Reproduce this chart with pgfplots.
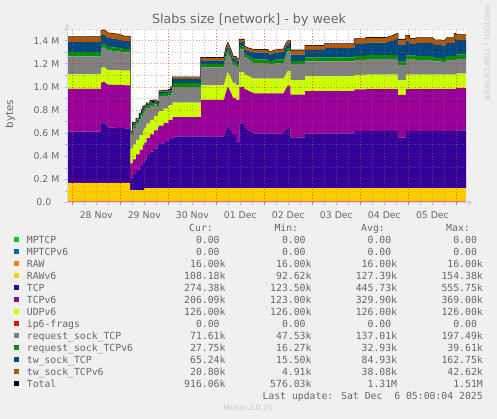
\documentclass[border=0pt]{standalone}
\usepackage{pgfplots}
\pgfplotsset{compat=1.18}
\usepackage{pgfplotstable}
\usepackage{fontspec}
\setmainfont{DejaVu Sans}
\newfontfamily\mono{DejaVu Sans Mono}
\usetikzlibrary{arrows.meta}

\definecolor{bgc}{HTML}{F0F0F0}
\definecolor{fontc}{HTML}{666666}
\definecolor{axisc}{HTML}{CFD6F8}
\definecolor{cMPTCP}{HTML}{00CC00}
\definecolor{cMPTCPsix}{HTML}{0066B3}
\definecolor{cRAW}{HTML}{FF8000}
\definecolor{cRAWsix}{HTML}{FFCC00}
\definecolor{cTCP}{HTML}{330099}
\definecolor{cTCPsix}{HTML}{990099}
\definecolor{cUDPsix}{HTML}{CCFF00}
\definecolor{cFrag}{HTML}{FF0000}
\definecolor{cRsock}{HTML}{808080}
\definecolor{cRsocksix}{HTML}{008F00}
\definecolor{cTw}{HTML}{00487D}
\definecolor{cTwsix}{HTML}{B35A00}

% time in days from 28 Nov 00:00, sizes in kB
% (a repeated t is a step)
\pgfplotstableread{
t raw rawv6 tcp tcpv6 udpv6 rsock rsock6 tw tw6
-0.110 16 154 443 370 126 154 37 90 42
0.600 16 154 443 370 126 154 37 90 42
0.600 16 154 500 365 126 170 32 80 42
0.660 16 154 520 355 126 175 30 75 42
0.740 16 154 480 370 126 170 30 78 42
0.950 16 154 475 372 126 165 30 75 42
1.100 16 154 472 372 126 158 28 70 40
1.205 16 154 472 372 126 158 28 70 40
1.205 16 90 110 123 126 115 18 10 5
1.260 16 90 110 123 126 115 18 10 5
1.260 16 90 140 128 126 145 22 15 8
1.330 16 90 140 128 126 145 22 15 8
1.330 16 90 175 135 126 140 22 16 8
1.400 16 90 175 135 126 140 22 16 8
1.400 16 90 210 140 126 140 23 17 8
1.440 16 90 210 140 126 140 23 17 8
1.440 16 90 210 140 126 160 25 23 10
1.470 16 90 210 140 126 160 25 23 10
1.470 16 90 245 145 126 150 25 23 10
1.500 16 90 245 145 126 150 25 23 10
1.500 16 108 250 145 126 142 25 19 9
1.550 16 108 250 145 126 142 25 19 9
1.550 16 108 285 148 126 130 24 15 8
1.620 16 108 285 148 126 130 24 15 8
1.620 16 108 315 150 126 120 24 14 7
1.670 16 108 315 150 126 120 24 14 7
1.670 16 108 315 150 126 105 22 12 6
1.700 16 108 315 150 126 105 22 12 6
1.700 16 108 345 155 126 98 20 11 6
1.760 16 108 345 155 126 98 20 11 6
1.760 16 108 345 155 126 85 19 10 6
1.790 16 108 345 155 126 85 19 10 6
1.790 16 108 370 158 126 45 16 10 6
1.810 16 108 370 158 126 45 16 10 6
1.810 16 108 380 160 126 125 25 17 8
1.900 16 108 380 160 126 125 25 17 8
1.900 16 108 400 162 126 110 25 15 8
2.000 16 108 400 162 126 110 25 15 8
2.000 16 108 425 165 126 90 25 13 7
2.056 16 108 425 165 126 90 25 13 7
2.056 16 108 425 165 126 105 28 18 9
2.092 16 108 425 165 126 105 28 18 9
2.092 16 108 447 167 126 133 35 38 15
2.681 16 108 447 167 126 133 35 38 15
2.681 16 108 447 316 126 155 30 32 22
3.160 16 108 447 316 126 155 30 32 22
3.200 16 108 490 340 126 165 30 35 25
3.240 16 108 539 340 126 165 29 30 27
3.300 16 108 500 330 126 160 28 30 25
3.350 16 108 460 320 126 155 25 30 22
3.410 16 108 460 320 126 155 25 30 22
3.410 16 108 403 361 126 160 25 28 20
3.480 16 108 403 361 126 160 25 28 20
3.480 16 108 555 322 126 197 30 33 23
3.580 16 108 555 322 126 197 30 33 23
3.580 16 108 530 330 126 151 30 35 26
3.660 16 108 500 345 126 150 28 38 25
3.780 16 108 475 346 126 134 34 60 23
4.070 16 108 475 346 126 134 34 60 23
4.120 16 108 475 346 126 120 25 60 23
4.200 16 108 475 346 126 130 32 58 24
4.330 16 108 475 346 126 134 34 62 24
4.400 16 108 475 346 126 134 34 62 24
4.450 16 108 500 360 126 150 30 60 24
4.490 16 108 519 369 126 170 30 35 24
4.540 16 108 519 369 126 170 30 35 24
4.540 16 108 440 369 126 140 25 55 38
4.850 16 108 440 369 126 140 25 55 38
4.850 16 108 475 365 126 130 35 65 36
5.250 16 108 475 365 126 130 35 65 36
5.250 16 108 475 365 126 130 35 80 37
5.875 16 108 475 365 126 130 35 80 37
5.875 16 108 495 360 126 128 35 105 42
6.120 16 108 495 360 126 128 35 105 42
6.120 16 108 495 361 126 135 37 105 42
6.530 16 108 495 361 126 135 37 105 42
6.650 16 108 495 361 126 135 37 120 42
6.760 16 108 495 361 126 135 37 140 42
6.780 16 108 495 361 126 135 37 140 42
6.780 16 108 437 369 126 133 29 150 42
6.950 16 108 437 369 126 133 29 150 42
6.950 16 108 495 361 126 130 35 130 42
7.020 16 108 495 361 126 130 35 130 42
7.020 16 108 495 361 126 130 35 105 42
7.160 16 108 495 361 126 130 35 105 42
7.160 16 108 495 361 126 125 35 115 42
7.500 16 108 495 361 126 125 35 115 42
7.550 16 108 495 361 126 115 30 112 42
7.680 16 108 495 361 126 115 30 112 42
7.720 16 108 495 361 126 105 30 115 42
7.760 16 108 495 361 126 105 30 115 42
7.800 16 108 495 361 126 125 35 115 42
7.960 16 108 495 361 126 125 35 115 42
7.960 16 108 495 361 126 125 35 150 45
7.990 16 108 495 361 126 125 35 150 45
7.990 16 108 500 365 126 128 37 125 45
8.210 16 108 500 365 126 128 37 125 45
}\slabs

% legend row: baseline, colour, name, cur, min, avg, max
\newcommand\lrow[7]{%
  \fill[#2] (14bp,#1bp+0.9bp) rectangle (19.4bp,#1bp+6.3bp);
  \node[anchor=base west] at (26.7bp,#1bp) {#3};
  \node[anchor=base east] at (225.7bp,#1bp) {#4};
  \node[anchor=base east] at (311.7bp,#1bp) {#5};
  \node[anchor=base east] at (397.3bp,#1bp) {#6};
  \node[anchor=base east] at (483bp,#1bp) {#7};
}
\newcommand\zk{0.00\phantom{k}}

\begin{document}
\begin{tikzpicture}
\fill[bgc] (0bp,0bp) rectangle (497bp,419bp);

\begin{axis}[
    at={(67bp,216.5bp)}, anchor=south west,
    scale only axis, width=399bp, height=173.4bp,
    xmin=-0.11, xmax=8.2,
    ymin=0, ymax=1500,
    stack plots=y,
    axis on top,
    axis background/.style={fill=white},
    axis x line*=bottom, axis y line*=left,
    axis line style={draw=axisc, line width=0.8bp},
    x axis line style={-{Latex[length=6bp,width=5bp]}, shorten >=-8bp},
    y axis line style={-{Latex[length=6bp,width=5bp]}, shorten >=-7bp},
    xtick={0.5,1.5,...,7.5},
    xticklabels={28 Nov,29 Nov,30 Nov,01 Dec,02 Dec,03 Dec,04 Dec,05 Dec},
    minor xtick={-0.25,0,...,8.25},
    extra x ticks={0,1,...,8},
    extra x tick style={xticklabel={}, xmajorgrids=true,
        major x tick style={draw=red!60}},
    ytick={0,200,...,1400},
    yticklabels={0.0\hphantom{M},0.2 M,0.4 M,0.6 M,0.8 M,1.0 M,1.2 M,1.4 M},
    minor ytick={100,300,...,1500},
    xmajorgrids=false, xminorgrids=true,
    ymajorgrids=true, yminorgrids=true,
    major grid style={draw=red, opacity=0.4, line width=0.7bp, dash pattern=on 1bp off 2bp},
    minor grid style={draw=gray, opacity=0.45, line width=0.7bp, dash pattern=on 1bp off 2bp},
    tick align=outside,
    major tick length=2.5bp, minor tick length=2.5bp,
    major x tick style={draw=none},
    minor tick style={draw=gray!60, line width=0.6bp},
    major y tick style={draw=gray!60, line width=0.6bp},
    tick label style={font=\fontsize{9.3bp}{11bp}\selectfont, text=fontc},
    yticklabel style={anchor=east, inner sep=0pt, xshift=-5bp},
    xticklabel style={anchor=north, inner sep=0pt, yshift=-6.8bp},
]
\addplot[fill=cRAW, draw=none] table[x=t, y=raw] {\slabs} \closedcycle;
\addplot[fill=cRAWsix, draw=none] table[x=t, y=rawv6] {\slabs} \closedcycle;
\addplot[fill=cTCP, draw=none] table[x=t, y=tcp] {\slabs} \closedcycle;
\addplot[fill=cTCPsix, draw=none] table[x=t, y=tcpv6] {\slabs} \closedcycle;
\addplot[fill=cUDPsix, draw=none] table[x=t, y=udpv6] {\slabs} \closedcycle;
\addplot[fill=cRsock, draw=none] table[x=t, y=rsock] {\slabs} \closedcycle;
\addplot[fill=cRsocksix, draw=none] table[x=t, y=rsock6] {\slabs} \closedcycle;
\addplot[fill=cTw, draw=none] table[x=t, y=tw] {\slabs} \closedcycle;
\addplot[fill=cTwsix, draw=none] table[x=t, y=tw6] {\slabs} \closedcycle;
% total: the top of the stack
\addplot[draw=black, line width=1.1bp] table[x=t, y expr=0] {\slabs};
\end{axis}

% title and side texts
\node[anchor=base, inner sep=0pt, text=fontc, font=\fontsize{12.7bp}{15bp}\selectfont]
    at (249bp,395.7bp) {Slabs size [network] - by week};
\node[anchor=base, inner sep=0pt, rotate=90, text=fontc, font=\fontsize{10.3bp}{12bp}\selectfont]
    at (13bp,305bp) {bytes};
\node[inner sep=0pt, rotate=-90, text=black!22, font=\fontsize{7.4bp}{9bp}\selectfont]
    at (487bp,366bp) {RRDTOOL / TOBI OETIKER};

% legend
\begin{scope}[every node/.style={inner sep=0pt, text=fontc,
    font=\mono\fontsize{9.8bp}{12bp}\selectfont}]
\node[anchor=base east] at (213bp,187.7bp) {Cur:};
\node[anchor=base east] at (298.3bp,187.7bp) {Min:};
\node[anchor=base east] at (385bp,187.7bp) {Avg:};
\node[anchor=base east] at (470bp,187.7bp) {Max:};
\lrow{175.7}{cMPTCP}{MPTCP}{\zk}{\zk}{\zk}{\zk}
\lrow{163.7}{cMPTCPsix}{MPTCPv6}{\zk}{\zk}{\zk}{\zk}
\lrow{151.7}{cRAW}{RAW}{16.00k}{16.00k}{16.00k}{16.00k}
\lrow{139.7}{cRAWsix}{RAWv6}{108.18k}{92.62k}{127.39k}{154.38k}
\lrow{127.7}{cTCP}{TCP}{274.38k}{123.50k}{445.73k}{555.75k}
\lrow{115.7}{cTCPsix}{TCPv6}{206.09k}{123.00k}{329.90k}{369.00k}
\lrow{103.7}{cUDPsix}{UDPv6}{126.00k}{126.00k}{126.00k}{126.00k}
\lrow{91.7}{cFrag}{ip6-frags}{\zk}{\zk}{\zk}{\zk}
\lrow{79.7}{cRsock}{request\_sock\_TCP}{71.61k}{47.53k}{137.01k}{197.49k}
\lrow{67.7}{cRsocksix}{request\_sock\_TCPv6}{27.75k}{16.27k}{32.93k}{39.61k}
\lrow{55.7}{cTw}{tw\_sock\_TCP}{65.24k}{15.50k}{84.93k}{162.75k}
\lrow{43.7}{cTwsix}{tw\_sock\_TCPv6}{20.80k}{4.91k}{38.08k}{42.62k}
\lrow{31.7}{black}{Total}{916.06k}{576.03k}{1.31M}{1.51M}
\node[anchor=base east] at (483bp,19.7bp) {Last update: Sat Dec~~6 05:00:04 2025};
\end{scope}
\node[anchor=base, inner sep=0pt, text=black!22, font=\fontsize{7.5bp}{9bp}\selectfont]
    at (248bp,8.3bp) {Munin 2.0.76};

% the page is exactly the background rectangle
\pgfresetboundingbox
\path[use as bounding box] (0bp,0bp) rectangle (497bp,419bp);
\end{tikzpicture}
\end{document}
